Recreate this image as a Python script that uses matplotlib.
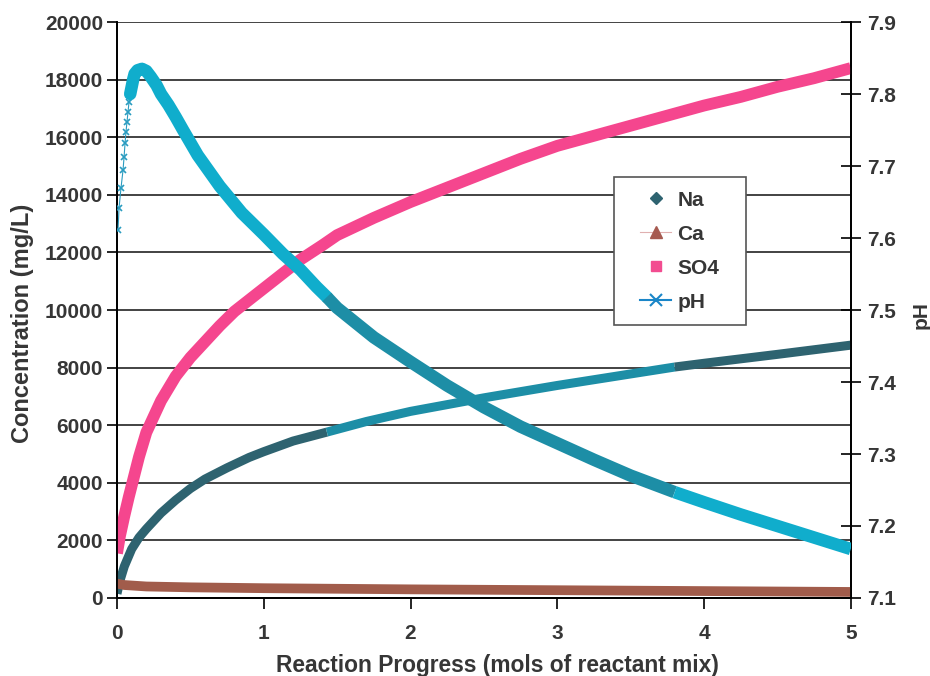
import numpy as np
import matplotlib.pyplot as plt
from matplotlib.lines import Line2D
from matplotlib.patches import Rectangle

plt.rcParams['font.family'] = ['Liberation Sans', 'DejaVu Sans']
plt.rcParams['font.weight'] = 'bold'
plt.rcParams['axes.labelweight'] = 'bold'

# reaction progress (mols of reactant mix) and concentrations (mg/L)
na_x = [0, 0.02, 0.05, 0.1, 0.15, 0.2, 0.3, 0.4, 0.5, 0.6, 0.75, 0.9, 1.0, 1.2, 1.43,
        1.7, 2.0, 2.5, 3.0, 3.5, 3.8, 4.0, 4.5, 5.0]
na = [150, 600, 1100, 1700, 2100, 2400, 2950, 3400, 3800, 4130, 4520, 4880, 5080, 5450,
      5760, 6130, 6480, 6950, 7380, 7780, 8020, 8150, 8460, 8780]

ca_x = [0, 0.05, 0.2, 0.5, 1.0, 2.0, 3.0, 4.0, 5.0]
ca = [500, 450, 400, 370, 340, 300, 270, 240, 210]

so4_x = [0, 0.02, 0.05, 0.08, 0.1, 0.15, 0.2, 0.25, 0.3, 0.4, 0.5, 0.6, 0.7, 0.8, 0.9,
         1.0, 1.1, 1.25, 1.4, 1.5, 1.75, 2.0, 2.25, 2.5, 2.75, 3.0, 3.25, 3.5, 3.75,
         4.0, 4.25, 4.5, 4.75, 5.0]
so4 = [1550, 2150, 2850, 3500, 3900, 4900, 5750, 6300, 6850, 7700, 8350, 8900, 9450,
       9950, 10350, 10750, 11150, 11750, 12250, 12600, 13200, 13750, 14250, 14750,
       15250, 15700, 16050, 16400, 16750, 17100, 17400, 17750, 18050, 18400]

# pH: first steps are plotted as separate points, the rest as a dense run
ph_start_x = [0.007, 0.014, 0.027, 0.041, 0.048, 0.055, 0.061, 0.068, 0.075, 0.082, 0.089, 0.10]
ph_start = [7.611, 7.642, 7.669, 7.694, 7.712, 7.732, 7.747, 7.761, 7.775, 7.789, 7.80, 7.81]
ph_x = [0.09, 0.10, 0.11, 0.12, 0.14, 0.17, 0.2, 0.23, 0.27, 0.3, 0.35, 0.4, 0.45, 0.55,
        0.7, 0.85, 1.0, 1.13, 1.25, 1.36, 1.43, 1.5, 1.75, 2.0, 2.25, 2.5, 2.75, 3.0,
        3.25, 3.5, 3.8, 4.0, 4.25, 4.5, 4.75, 5.0]
ph = [7.80, 7.81, 7.82, 7.828, 7.833, 7.835, 7.832, 7.824, 7.812, 7.80, 7.785, 7.768,
      7.75, 7.715, 7.672, 7.635, 7.605, 7.578, 7.556, 7.532, 7.518, 7.503, 7.462, 7.428,
      7.395, 7.365, 7.338, 7.315, 7.292, 7.27, 7.247, 7.233, 7.216, 7.20, 7.184, 7.168]

# colour runs along x
breaks = [0, 1.43, 3.8, 5.0]
na_cols = ['#2e6370', '#1d8ea6', '#2e6370']
ph_cols = ['#10adcc', '#1d8ea6', '#10adcc']

fig = plt.figure(figsize=(9.3, 6.76), dpi=100)
ax = fig.add_axes([0.1258, 0.1154, 0.789, 0.852])
ax2 = ax.twinx()

na_x_arr, na_arr = np.array(na_x), np.array(na)
for i, c in enumerate(na_cols):
    m = (na_x_arr >= breaks[i]) & (na_x_arr <= breaks[i + 1])
    ax.plot(na_x_arr[m], na_arr[m], color=c, lw=6.5, solid_capstyle='butt',
            solid_joinstyle='round', zorder=3)

ax.plot(ca_x, ca, color='#a15c4b', lw=7, solid_capstyle='butt', zorder=3)
ax.plot(so4_x, so4, color='#f5468e', lw=8.5, solid_capstyle='butt',
        solid_joinstyle='round', zorder=3)

ax2.plot(ph_start_x, ph_start, color='#2a9cc0', lw=0.8, marker='x', ms=5, mew=1.2, zorder=3)
ph_x_arr, ph_arr = np.array(ph_x), np.array(ph)
for i, c in enumerate(ph_cols):
    m = (ph_x_arr >= breaks[i]) & (ph_x_arr <= breaks[i + 1])
    ax2.plot(ph_x_arr[m], ph_arr[m], color=c, lw=9,
             solid_capstyle='round' if i == 0 else 'butt',
             solid_joinstyle='round', zorder=3)

ax.set_xlim(0, 5)
ax.set_ylim(0, 20000)
ax.set_yticks(np.arange(0, 20001, 2000))
ax.set_xticks(range(6))
ax2.set_ylim(7.1, 7.9)
ax2.set_yticks(np.arange(7.1, 7.91, 0.1))
ax2.set_yticklabels([f'{v:.1f}' for v in np.arange(7.1, 7.91, 0.1)])

ax.grid(axis='y', color='#222222', lw=1.2)
ax.set_axisbelow(True)
for sp in ax.spines.values():
    sp.set_linewidth(1.3)
for sp in ax2.spines.values():
    sp.set_linewidth(1.3)
ax.spines['top'].set_visible(False)
ax2.spines['top'].set_visible(False)

txt = '#363636'
ax.tick_params(axis='y', direction='out', length=7, width=1.2, labelsize=15, labelcolor=txt, pad=3)
ax.tick_params(axis='x', direction='out', length=8, width=1.2, labelsize=15, labelcolor=txt, pad=11)
ax2.tick_params(axis='y', direction='inout', length=14, width=1.2, labelsize=15, labelcolor=txt, pad=5)

ax.set_xlabel('Reaction Progress (mols of reactant mix)', fontsize=16.4, color=txt)
ax.xaxis.set_label_coords(0.519, -0.097)
ax.set_ylabel('Concentration (mg/L)', fontsize=17, color=txt)
ax.yaxis.set_label_coords(-0.113, 0.477)
ax2.set_ylabel('pH', fontsize=15, color=txt)
ax2.yaxis.set_label_coords(1.083, 0.491)

# legend box
ax2.add_patch(Rectangle((0.677, 0.474), 0.18, 0.257, transform=ax2.transAxes,
                        facecolor='white', edgecolor='#555555', lw=1.2, zorder=4.5))
handles = [
    Line2D([], [], ls='none', marker='D', ms=6, color='#2e6370'),
    Line2D([], [], ls='-', lw=0.8, color='#e0b0b0', marker='^', ms=8, mfc='#a65a50', mec='#a65a50'),
    Line2D([], [], ls='none', marker='s', ms=7, color='#f24c90'),
    Line2D([], [], ls='-', lw=1.5, color='#1a86c8', marker='x', ms=8, mew=1.5),
]
leg = ax2.legend(handles, ['Na', 'Ca', 'SO4', 'pH'], loc='center',
                 bbox_to_anchor=(0.767, 0.602), frameon=False, fontsize=15,
                 labelspacing=0.72, borderpad=0.2, handletextpad=0.3, handlelength=1.5)
for t in leg.get_texts():
    t.set_color(txt)
leg.set_zorder(5)

fig.savefig('out.png', dpi=100)
